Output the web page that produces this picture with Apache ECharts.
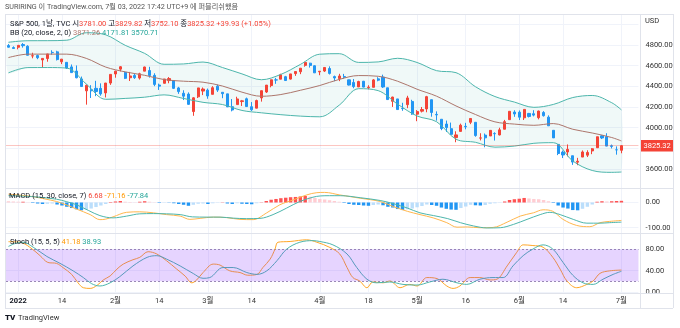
<!DOCTYPE html>
<html><head><meta charset="utf-8">
<script src="https://cdn.jsdelivr.net/npm/echarts@6/dist/echarts.min.js"></script>
<style>html,body{margin:0;padding:0;background:#fff}#c{width:680px;height:328px}</style>
</head><body><div id="c"></div>
<script>
// ---------- DATA ----------
const dates = ['12-30','12-31',
'01-03','01-04','01-05','01-06','01-07','01-10','01-11','01-12','01-13','01-14','01-18','01-19','01-20','01-21','01-24','01-25','01-26','01-27','01-28','01-31',
'02-01','02-02','02-03','02-04','02-07','02-08','02-09','02-10','02-11','02-14','02-15','02-16','02-17','02-18','02-22','02-23','02-24','02-25','02-28',
'03-01','03-02','03-03','03-04','03-07','03-08','03-09','03-10','03-11','03-14','03-15','03-16','03-17','03-18','03-21','03-22','03-23','03-24','03-25','03-28','03-29','03-30','03-31',
'04-01','04-04','04-05','04-06','04-07','04-08','04-11','04-12','04-13','04-14','04-18','04-19','04-20','04-21','04-22','04-25','04-26','04-27','04-28','04-29',
'05-02','05-03','05-04','05-05','05-06','05-09','05-10','05-11','05-12','05-13','05-16','05-17','05-18','05-19','05-20','05-23','05-24','05-25','05-26','05-27','05-31',
'06-01','06-02','06-03','06-06','06-07','06-08','06-09','06-10','06-13','06-14','06-15','06-16','06-17','06-21','06-22','06-23','06-24','06-27','06-28','06-29','06-30',
'07-01'];
const open = [4794.23,4775.21,4778.14,4804.51,4787.99,4693.39,4697.66,4655.34,4669.14,4728.59,4733.56,4637.99,4632.24,4588.03,4547.35,4471.38,4356.32,4366.64,4380.58,4380.58,4336.19,4431.79,
4519.57,4566.39,4535.41,4482.79,4505.75,4480.02,4547.00,4553.24,4506.27,4412.61,4429.28,4455.75,4456.06,4384.57,4332.74,4324.93,4155.77,4298.38,4354.17,
4363.14,4322.56,4401.31,4342.12,4327.01,4202.66,4223.10,4252.55,4279.50,4202.75,4188.82,4288.14,4345.11,4407.34,4462.40,4469.10,4493.10,4469.98,4522.91,4541.09,4602.86,4624.20,4599.02,
4540.32,4547.97,4572.45,4494.17,4474.65,4494.15,4462.64,4437.59,4394.30,4449.12,4385.63,4390.63,4472.26,4489.17,4385.83,4255.34,4278.14,4186.52,4222.58,4253.75,
4130.61,4159.78,4181.18,4270.43,4128.17,4081.27,4035.18,3990.08,3903.95,3963.90,4013.02,4052.00,4051.98,3899.00,3927.76,3919.42,3942.94,3929.59,3984.60,4077.43,4151.09,
4149.78,4095.41,4137.57,4134.72,4096.47,4147.12,4101.65,3974.39,3838.15,3763.52,3764.05,3728.18,3665.90,3715.31,3733.89,3774.71,3805.74,3920.76,3913.00,3825.09,3785.99,
3781.00];
const high = [4808.93,4786.83,4796.64,4818.62,4797.70,4725.01,4707.95,4673.02,4714.13,4748.83,4744.13,4665.13,4632.24,4611.55,4602.11,4494.52,4417.35,4411.01,4453.23,4428.74,4432.72,4516.89,
4550.49,4595.31,4542.88,4539.66,4521.86,4531.32,4590.03,4588.92,4526.33,4426.22,4472.77,4489.55,4456.06,4394.60,4362.12,4341.51,4294.73,4385.34,4388.84,
4378.45,4401.48,4416.78,4342.12,4327.01,4276.94,4299.40,4268.28,4291.01,4247.57,4271.05,4357.86,4412.67,4465.40,4481.75,4522.00,4501.07,4520.58,4546.03,4575.65,4637.30,4627.77,4603.07,
4548.70,4583.50,4593.45,4503.94,4521.16,4520.41,4464.35,4471.00,4453.92,4452.61,4410.31,4471.03,4488.29,4512.94,4385.83,4299.02,4278.14,4240.71,4308.45,4269.68,
4169.81,4200.10,4307.66,4270.43,4157.69,4081.27,4068.82,4049.09,3964.80,4038.88,4046.46,4090.72,4051.98,3945.96,3943.42,3975.30,3955.68,3999.33,4075.14,4158.49,4168.34,
4166.54,4177.51,4142.67,4168.78,4164.86,4160.14,4119.10,3974.39,3838.15,3778.18,3837.56,3728.18,3707.71,3779.65,3780.78,3802.58,3913.65,3927.72,3945.86,3836.50,3818.99,
3829.82];
const low = [4775.33,4765.75,4758.17,4774.27,4699.44,4671.26,4662.74,4582.24,4638.27,4706.71,4650.29,4614.75,4568.70,4530.20,4477.95,4395.34,4222.62,4287.11,4304.80,4309.50,4292.46,4414.02,
4483.53,4544.32,4470.39,4451.50,4471.47,4465.40,4547.00,4484.31,4401.41,4364.84,4429.28,4429.68,4373.81,4327.22,4267.11,4221.51,4114.65,4286.83,4315.12,
4279.54,4322.56,4345.56,4284.98,4199.85,4157.87,4223.10,4209.80,4200.49,4161.72,4187.90,4251.99,4335.65,4390.57,4424.30,4469.10,4455.81,4465.17,4501.07,4517.69,4589.66,4581.32,4530.41,
4507.57,4539.21,4514.17,4450.04,4450.30,4474.60,4408.38,4381.34,4392.70,4390.41,4370.30,4390.63,4448.76,4384.47,4267.62,4200.82,4175.04,4162.90,4188.63,4124.28,
4062.51,4147.08,4148.91,4106.01,4067.91,3975.48,3958.17,3928.82,3858.87,3963.90,3983.99,4033.93,3911.91,3876.58,3810.32,3919.42,3875.13,3925.03,3984.60,4077.43,4104.88,
4073.85,4074.37,4098.67,4109.18,4080.19,4107.20,4017.17,3900.16,3734.30,3705.68,3722.30,3639.77,3636.87,3715.31,3715.72,3743.52,3805.74,3889.66,3820.14,3799.02,3738.67,
3752.10];
const close = [4778.73,4766.18,4796.56,4793.54,4700.58,4696.05,4677.03,4670.29,4713.07,4726.35,4659.03,4662.85,4577.11,4532.76,4482.73,4397.94,4410.13,4356.45,4349.93,4326.51,4431.85,4515.55,
4546.54,4589.38,4477.44,4500.53,4483.87,4521.54,4587.18,4504.08,4418.64,4401.67,4471.07,4475.01,4380.26,4348.87,4304.76,4225.50,4288.70,4384.65,4373.94,
4306.26,4386.54,4363.49,4328.87,4201.09,4170.70,4277.88,4259.52,4204.31,4173.11,4262.45,4357.86,4411.67,4463.12,4461.18,4511.61,4456.24,4520.16,4543.06,4575.52,4631.60,4602.45,4530.41,
4545.86,4582.64,4525.12,4481.15,4500.21,4488.28,4412.53,4397.45,4446.59,4392.59,4391.69,4462.21,4459.45,4393.66,4271.78,4296.12,4175.20,4183.96,4287.50,4131.93,
4155.38,4175.48,4300.17,4146.87,4123.34,3991.24,4001.05,3935.18,3930.08,4023.89,4008.01,4088.85,3923.68,3900.79,3901.36,3973.75,3941.48,3978.73,4057.84,4158.24,4132.15,
4101.23,4176.82,4108.54,4121.43,4160.68,4115.77,4017.82,3900.86,3749.63,3735.48,3789.99,3666.77,3674.84,3764.79,3759.89,3795.73,3911.74,3900.11,3821.55,3818.83,3785.38,
3825.32];

// Bollinger Bands (20, close, 2) read at sample bars
const bbIdx   = [0,4,8,12,16,20,24,28,32,36,40,44,48,52,56,60,64,68,72,76,80,84,88,92,96,100,104,108,112,116,120,124,126];
const bbBasis = [4678.3,4711.4,4711.8,4711.4,4670.6,4586.3,4540.0,4506.8,4465.3,4449.6,4440.0,4402.8,4343.6,4303.7,4320.6,4361.7,4408.0,4467.0,4504.3,4497.3,4449.3,4371.8,4304.6,4210.2,4127.2,4056.2,4034.6,4022.7,4039.6,3984.5,3948.4,3904.6,3871.26];
const bbUpper = [4826.3,4841.4,4841.8,4846.4,4918.6,4898.3,4797.0,4718.8,4613.3,4616.6,4635.0,4581.8,4520.6,4463.7,4515.6,4611.7,4711.0,4716.0,4631.3,4636.3,4671.3,4630.8,4551.6,4532.2,4396.2,4301.2,4247.6,4196.7,4224.6,4291.5,4311.4,4241.6,4171.81];
const bbLower = [4530.3,4581.4,4581.8,4576.4,4422.6,4274.3,4283.0,4294.8,4317.3,4282.6,4245.0,4223.8,4166.6,4143.7,4125.6,4111.7,4105.0,4218.0,4377.3,4358.3,4227.3,4112.8,4057.6,3888.2,3858.2,3811.2,3821.6,3848.7,3854.6,3677.5,3585.4,3567.6,3570.71];

// MACD (15, 30, close, 7)
const macdIdx  = [0,2.5,5.1,7.5,9.9,12,14,16.8,18.8,20,21.5,24.3,27,29.8,32.5,35.3,37.3,39.4,42.1,44.9,47.6,50.3,53.1,55.8,58.5,61.3,63.4,65,68.1,72.3,76.4,79.1,82,84.6,87.3,90.1,92.2,94.3,96.9,99.6,102.5,105.2,107.9,109.9,111.9,114,116.8,119.5,121.6,123.6,126];
const macdLine = [33,29,23,14,4,-10,-26,-48,-68,-66,-57,-39,-37,-41,-48,-54,-67,-63,-58,-60,-67,-68,-41,-9,10,30,39,40,30,17,4,-16,-35,-48,-61,-80,-98,-97,-100,-99,-78,-54,-41,-29,-35,-67,-91,-96,-80,-75,-71.16];
const signalIdx  = [0,5.1,9.9,12,14,16.5,18.8,21.5,24.3,27,29.8,32.5,35.3,37.8,40.8,43.5,46.2,48.9,51.7,54.4,57.2,59.9,62.6,64.1,66,68.2,72.3,76.4,79.2,82,84.6,87.4,90.3,92.9,95.6,98.4,101.1,103.8,106.6,109.3,111.3,113.4,116.1,118.9,121.6,123.6,126];
const signalLine = [27,23,13,3,-9,-32,-52,-61,-54,-45,-44,-45,-48,-57,-58,-58,-62,-64,-63,-48,-22,4,21,26,27,27,19,8,-5,-22,-41,-52,-64,-80,-93,-101,-100,-87,-67,-48,-39,-48,-67,-82,-82,-80,-77.84];
const histogram = [5,4,3,3,1,-2,-4,-6,-5,-4,-8,-12,-17,-22,-27,-31,-28,-24,-18,-12,-6,2,4,6,3,2,1,3,5,3,1,-2,-1,-1,-3,-6,-9,-13,-9,-5,-4,-6,-3,-1,1,-4,-6,-3,-5,-6,-7,-3,1,6,11,14,17,19,21,22,24,26,23,18,14,12,9,6,3,-2,-6,-9,-10,-12,-13,-10,-8,-11,-17,-20,-26,-30,-27,-24,-19,-14,-8,-10,-13,-20,-25,-28,-29,-22,-16,-9,-11,-12,-10,-5,-3,-1,4,10,13,15,18,16,14,13,10,5,-2,-12,-20,-24,-30,-31,-25,-17,-8,3,5,4,5,6,6.68];

// Stoch (15, 5, 5)
const stochKIdx = [0,2.4,4.4,6.5,8.1,9.9,11.2,13,14.3,15.4,16.8,18.2,19.5,20.9,22.3,23.6,25.6,27,28.7,30.5,32.5,34.6,36.3,37.7,38.7,40,42.1,43.5,45.5,47.6,49.2,51.1,52.3,53.8,54.8,55.4,57.9,61.3,63.4,66.1,68.1,69.6,70.8,72.2,73.7,74.9,77,78.4,80.5,82.5,84,86,88.1,90.1,91.4,92.8,94.9,96.9,99,100.4,102.5,104.5,105.8,107.8,109.9,111.9,113.4,114.8,116.8,118.9,120.2,121.6,123.6,126];
const stochK    = [95,94,84.5,68.5,55.7,53.8,46,33,17,7.7,6.4,12,22.5,30,43,52.5,60.8,65.3,76,71.7,58.9,43,30,17,22.5,36.5,52.5,50.6,39.7,36.5,31.4,33,46,62,81,94,95.4,98.6,94,84,71.7,46,27,20.5,7.7,18.6,17,20.5,7.7,14,11,27,25,11,6.4,11,27,27,22.5,23.8,49,75,89,87.7,84.5,65.3,43,20.5,7.7,14,20.5,35,39.7,41.18];
const stochDIdx = [0,1.5,3,5.1,7.9,10.6,13.3,15.4,17.1,18.8,20.9,22.9,25.6,28.5,30.5,32.5,35.3,38,40,41.4,44.1,46.2,49,51.1,53.1,55.2,57.2,59.9,62.6,64,66.7,69.6,71.6,73.7,75.7,78.4,81.1,84,86.6,89.3,92.2,94.2,96.9,99.6,101.7,103.7,105.8,107.8,109.9,111.9,114,116,118.1,120.2,122.2,124.3,126];
const stochD    = [86,92,94,84.5,67,54,39.7,27,15.4,11,17,28.8,49,65.3,68.5,62,49,34.6,25.6,27,46,46,36.5,33,39.7,59,81,94,97,95.4,89,71.7,46,23.8,17,18.6,14,12.8,18.6,23.8,17,14,23.8,27,27,49,68.5,81,89,81,55.7,31.4,17,14,23.8,33,38.93];

// Tick labels
const priceTicks = [3600,4000,4200,4400,4600,4800];
const macdTicks = [0,-100];
const stochTicks = [0,40,80];
const stochBand = [20,80];
const tickIdx  = [2,11,22,31,41,50,64,74,84,94,105,114,126];
const tickText = ['2022','14','2월','14','3월','14','4월','18','5월','16','6월','14','7월'];
const lastPrice = 3825.32;

// ---------- CHART ----------
const FF = "Roboto, 'Noto Sans CJK KR', sans-serif";
const UP = '#F44336', DOWN = '#2196F3';
const TEAL = '#4DB6AC', BROWN = '#AD766C', ORANGE = '#FFB74D';
const GRIDC = '#f0f3fa', BORDER = '#e0e3eb';
const N = 130;
const SMOOTH = 0.35;
const cats = dates.concat(['p1','p2','p3']);
const pts = (xs, ys) => xs.map((x, i) => [x, ys[i]]);
const candleData = open.map((o, i) => [o, close[i], low[i], high[i]]);
const vLines = tickIdx.map(i => ({ xAxis: i, lineStyle: { color: GRIDC, width: 1, type: 'solid' } }));

const GL = 6, GW = N * 4.865;
const grids = [
  { left: GL, width: GW, top: 14, height: 174, outerBoundsMode: 'none' },
  { left: GL, width: GW, top: 188, height: 45, outerBoundsMode: 'none' },
  { left: GL, width: GW, top: 233, height: 60, outerBoundsMode: 'none' }
];
const catAxis = (gi, labels) => ({
  type: 'category', gridIndex: gi, data: cats, boundaryGap: true,
  axisLine: { show: false }, axisTick: { show: false }, splitLine: { show: false },
  axisLabel: labels ? {
    show: true, interval: (i) => tickIdx.includes(i), margin: 4,
    fontSize: 7.5, color: '#333', fontFamily: FF,
    formatter: (v, i) => { const k = tickIdx.indexOf(i); if (k < 0) return ''; return i === 2 ? '{b|' + tickText[k] + '}' : tickText[k]; },
    rich: { b: { fontWeight: 'bold', fontSize: 7.5, color: '#131722', fontFamily: FF } }
  } : { show: false }
});
const valXAxis = gi => ({ type: 'value', gridIndex: gi, min: -0.5, max: N - 0.5, show: false, splitLine: { show: false } });
const yAx = (gi, min, max, step, ticks) => ({
  type: 'value', gridIndex: gi, position: 'right', min, max, minInterval: step, maxInterval: step,
  axisLine: { show: false }, axisTick: { show: false },
  splitLine: { show: true, lineStyle: { color: GRIDC, width: 1 } },
  axisLabel: { show: true, margin: 7, fontSize: 7.5, color: '#333', fontFamily: FF,
    formatter: v => ticks.includes(v) ? v.toFixed(2) : '' }
});

const lineS = (xi, yi, xs, ys, color, extra) => Object.assign({
  type: 'line', xAxisIndex: xi, yAxisIndex: yi, data: pts(xs, ys), smooth: SMOOTH,
  symbol: 'none', lineStyle: { color, width: 1 }, silent: true, emphasis: { disabled: true }
}, extra || {});

const histColor = (p) => {
  const i = p.dataIndex, v = histogram[i], pv = i > 0 ? histogram[i - 1] : 6;
  if (v >= 0) return v >= pv ? '#FF5252' : '#FFCDD2';
  return v <= pv ? '#2196F3' : '#BBDEFB';
};

const rt = (fill, extra) => Object.assign({ fill, fontSize: 7.5, fontFamily: FF }, extra || {});
const txt = (x, y, text, rich, extra) => Object.assign({
  type: 'text', x, y, silent: true, z: 100,
  style: { text, rich, fontSize: 7.5, fontFamily: FF, fill: '#131722', verticalAlign: 'middle' }
}, extra || {});
const hl = (y, x1, x2) => ({ type: 'line', silent: true, z: 50, shape: { x1, y1: y + 0.5, x2, y2: y + 0.5 }, style: { stroke: BORDER, lineWidth: 1 } });
const vl = (x, y1, y2) => ({ type: 'line', silent: true, z: 50, shape: { x1: x + 0.5, y1, x2: x + 0.5, y2 }, style: { stroke: BORDER, lineWidth: 1 } });

const richCommon = {
  g: rt('#131722'), r: rt('#F44336'), b: rt(BROWN), t: rt('#26A69A'), o: rt('#FF9800')
};

// band fill between upper and lower (custom polygon through the library's coordinates)
const bandFill = {
  type: 'custom', xAxisIndex: 1, yAxisIndex: 0, silent: true, z: 1,
  data: [[bbIdx[0], bbBasis[0]]],
  renderItem: (params, api) => {
    const top = bbIdx.map((x, i) => api.coord([x, bbUpper[i]]));
    const bot = bbIdx.map((x, i) => api.coord([x, bbLower[i]])).reverse();
    return { type: 'polygon', shape: { points: top.concat(bot), smooth: 0.25 },
      style: { fill: 'rgba(38,166,154,0.07)', stroke: null } };
  }
};

const option = {
  animation: false,
  backgroundColor: '#ffffff',
  grid: grids,
  xAxis: [catAxis(0, false), valXAxis(0), catAxis(1, false), valXAxis(1), catAxis(2, true), valXAxis(2)],
  yAxis: [
    yAx(0, 3416, 5100, 200, priceTicks),
    yAx(1, -121, 57.5, 100, macdTicks),
    yAx(2, -2.3, 111.5, 40, stochTicks)
  ],
  series: [
    bandFill,
    lineS(1, 0, bbIdx, bbLower, TEAL, {
      markLine: { silent: true, symbol: 'none', z: 1, label: { show: false }, data: vLines }
    }),
    lineS(1, 0, bbIdx, bbUpper, TEAL),
    lineS(1, 0, bbIdx, bbBasis, BROWN),
    {
      type: 'candlestick', xAxisIndex: 0, yAxisIndex: 0, data: candleData, barWidth: 2.6,
      silent: true, emphasis: { disabled: true },
      itemStyle: { color: UP, color0: DOWN, borderColor: UP, borderColor0: DOWN, borderWidth: 1 },
      markLine: {
        silent: true, symbol: 'none',
        lineStyle: { color: 'rgba(244,67,54,0.3)', width: 1, type: 'solid' },
        label: { show: true, position: 'end', distance: 2, formatter: lastPrice.toFixed(2),
          color: '#fff', backgroundColor: '#F44336', padding: [2, 3, 2, 3], fontSize: 7.5, fontFamily: FF },
        data: [{ yAxis: lastPrice }]
      }
    },
    {
      type: 'bar', xAxisIndex: 2, yAxisIndex: 1, data: histogram, barWidth: '70%',
      silent: true, emphasis: { disabled: true }, itemStyle: { color: histColor }
    },
    lineS(3, 1, macdIdx, macdLine, ORANGE, {
      markLine: { silent: true, symbol: 'none', z: 1, label: { show: false }, data: vLines }
    }),
    lineS(3, 1, signalIdx, signalLine, TEAL),
    lineS(5, 2, stochKIdx, stochK, '#FFA726', {
      z: 1,
      markLine: { silent: true, symbol: 'none', z: 1, label: { show: false },
        data: vLines.concat(stochBand.map(v => ({ yAxis: v, lineStyle: { color: '#9c8db3', width: 1, type: [2, 2] } }))) }
    }),
    lineS(5, 2, stochDIdx, stochD, TEAL, {
      z: 1,
      markArea: { silent: true, z: 3, itemStyle: { color: 'rgba(130,40,255,0.2)' },
        data: [[{ yAxis: stochBand[0] }, { yAxis: stochBand[1] }]] }
    })
  ],
  graphic: [
    hl(14, 5, 673), hl(188, 5, 673), hl(233, 5, 673), hl(293, 5, 673), hl(308, 5, 673),
    vl(5, 14, 308), vl(640, 14, 308), vl(673, 14, 308),
    txt(5, 7, '', null, { style: { text: 'SURIRING 이 TradingView.com, 7월 03, 2022 17:42 UTC+9 에 퍼블리쉬했음', fontSize: 7.2, fontFamily: FF, fill: '#555', verticalAlign: 'middle' } }),
    txt(10, 24, '{g|S&P 500, 1날, TVC} {g|시}{r|3781.00} {g|고}{r|3829.82} {g|저}{r|3752.10} {g|종}{r|3825.32} {r|+39.93 (+1.05%)}', richCommon),
    txt(10, 33, '{g|BB (20, close, 2, 0)} {b|3871.26} {t|4171.81} {t|3570.71}', richCommon),
    txt(9, 196.5, '{g|MACD (15, 30, close, 7)} {r|6.68} {o|-71.16} {t|-77.84}', richCommon),
    txt(10, 242, '{g|Stoch (15, 5, 5)} {o|41.18} {t|38.93}', richCommon),
    txt(645, 21, '', null, { style: { text: 'USD', fontSize: 7.5, fontFamily: FF, fill: '#333', verticalAlign: 'middle' } }),
    txt(5, 318, '', null, { style: { text: 'TV', fontSize: 8, fontWeight: 900, fontFamily: FF, fill: '#131722', verticalAlign: 'middle' } }),
    txt(18, 318, '', null, { style: { text: 'TradingView', fontSize: 7.5, fontFamily: FF, fill: '#333', verticalAlign: 'middle' } })
  ]
};
const chart = echarts.init(document.getElementById('c'), null, { renderer: 'canvas', width: 680, height: 328 });
chart.setOption(option);
</script>
</body></html>
